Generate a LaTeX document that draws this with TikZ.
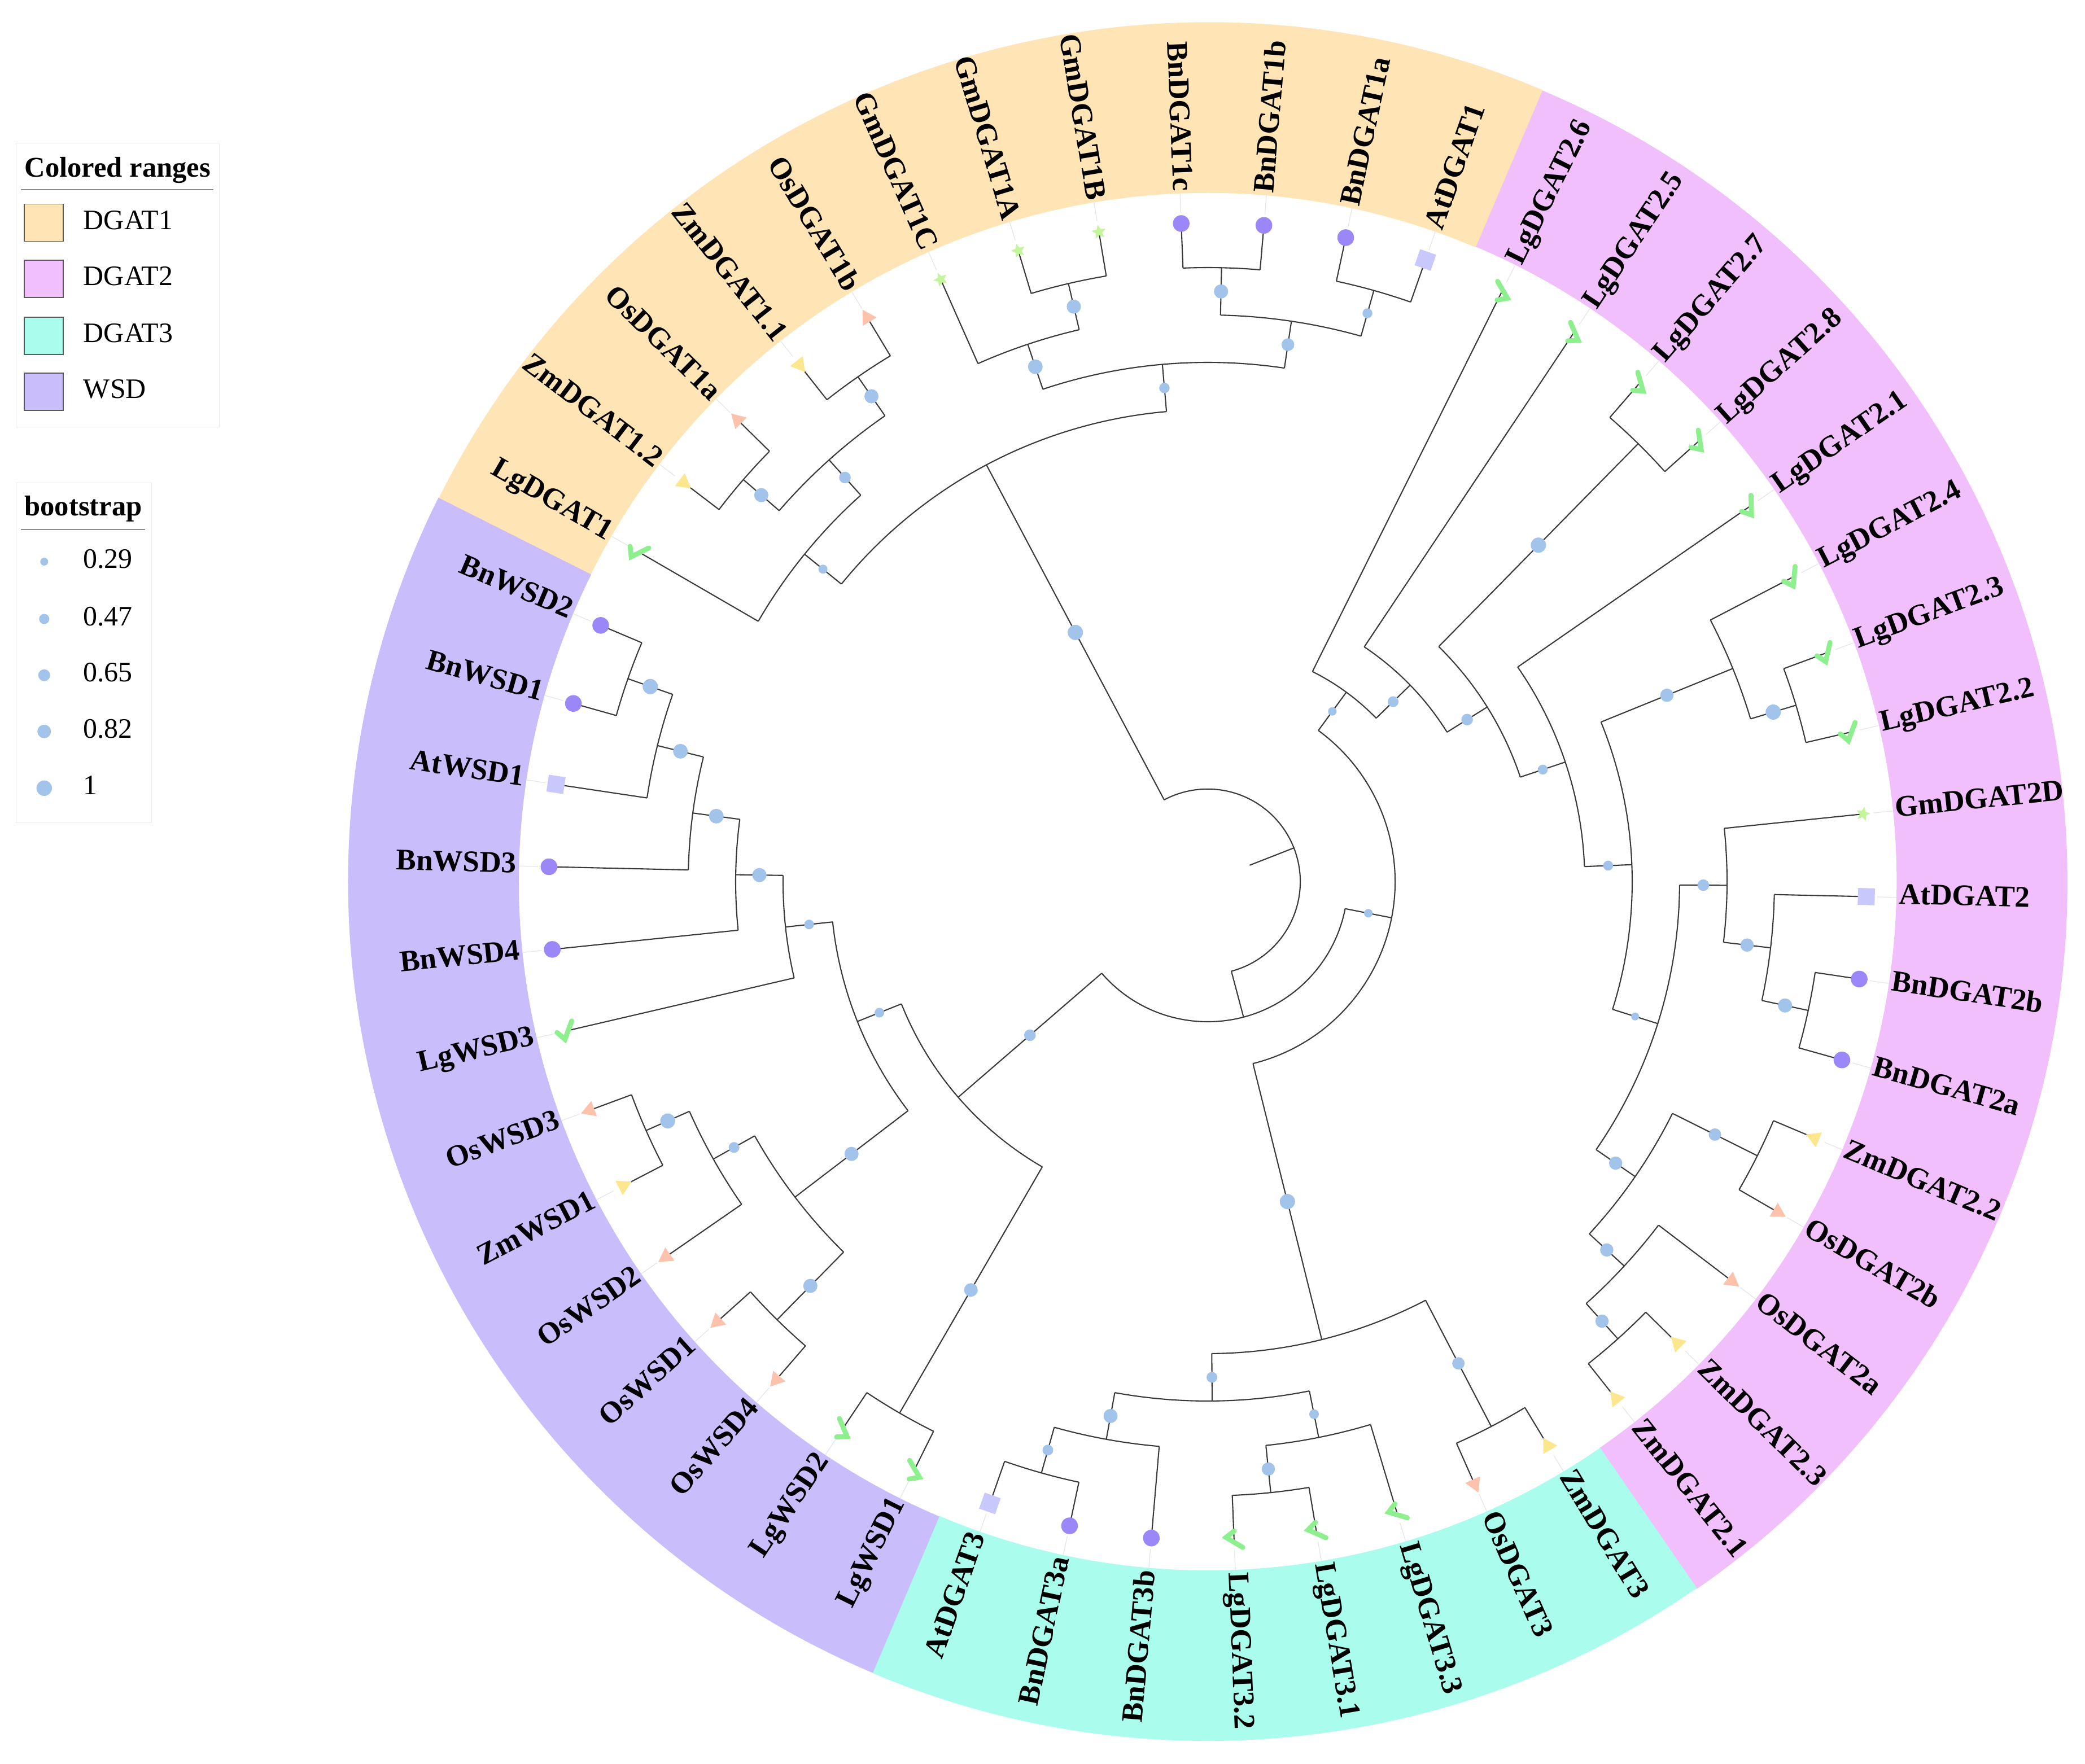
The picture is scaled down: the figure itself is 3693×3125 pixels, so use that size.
\documentclass[tikz,border=0pt]{standalone}
\usepackage{fontspec}
\setmainfont{Liberation Serif}
\usetikzlibrary{shapes.geometric, positioning}
\definecolor{RangeOne}{HTML}{FFE5B6}
\definecolor{RangeTwo}{HTML}{F0BFFC}
\definecolor{RangeThree}{HTML}{AAFCEC}
\definecolor{RangeWSD}{HTML}{C9BDFC}
\definecolor{BranchGray}{HTML}{3A3A3A}
\definecolor{BootBlue}{HTML}{A2C3EA}
\definecolor{MarkAt}{HTML}{C9C8FC}
\definecolor{MarkBn}{HTML}{9C87F8}
\definecolor{MarkGm}{HTML}{C4F59B}
\definecolor{MarkOs}{HTML}{FDC2AB}
\definecolor{MarkZm}{HTML}{FCE68E}
\definecolor{MarkLg}{HTML}{8EEF8E}

% species markers: #1 leaf index, #2 angle, #3 label rotation
\newcommand{\mkAt}[3]{\node[atmark, rotate=#3] (mk#1) at (#2:1167) {};}
\newcommand{\mkBn}[3]{\node[bnmark] (mk#1) at (#2:1167) {};}
\newcommand{\mkGm}[3]{\node[gmmark, rotate=#2-90] (mk#1) at (#2:1167) {};}
\newcommand{\mkOs}[3]{\node[osmark, rotate=#2-90] (mk#1) at (#2:1167) {};}
\newcommand{\mkZm}[3]{\node[zmmark, rotate=#2+90] (mk#1) at (#2:1167) {};}
\newcommand{\mkLg}[3]{\draw[lgmark, shift={(#2:1167)}, rotate=#3] (-16,1) -- (-5,-14) -- (14,15);}
\newcommand{\colorrange}[3]{\fill[#1] (#2:1220) arc[start angle=#2, end angle=#3, radius=12.2cm] -- (#3:1522) arc[start angle=#3, end angle=#2, radius=15.22cm] -- cycle;}

% clades: angle / height / parent height / arc from / arc to / bootstrap size
\newcommand{\cladelist}{124.7/1/2/121.1/128.3/25, 139.1/1/2/135.5/142.7/25, 131.9/2/3/124.7/139.1/20.5,
  140.9/3/4/131.9/149.9/16, 103.1/1/2/99.5/106.7/25, 108.5/2/3/103.1/113.9/26,
  88.7/1/2/85.1/92.3/25, 74.3/1/2/70.7/77.9/17.5, 81.5/2/3/74.3/88.7/22.5,
  95.0/3/4/81.5/108.5/18.5, 117.95/4/12/95.0/140.9/27,
  160.7/1/2/157.1/164.3/27, 166.1/2/3/160.7/171.5/26, 172.4/3/4/166.1/178.7/26,
  179.15/4/5/172.4/185.9/25, 186.125/5/6/179.15/193.1/17, 203.9/1/2/200.3/207.5/26.5,
  209.3/2/3/203.9/214.7/19, 225.5/1/3/221.9/229.1/25, 217.4/3/6/209.3/225.5/25,
  201.76/6/7/186.125/217.4/17, 239.9/1/7/236.3/243.5/24, 220.83/7/11/201.76/239.9/20.5,
  297.5/1/4/293.9/301.1/22, 275.9/1/2/272.3/279.5/23.5, 281.3/2/3/275.9/286.7/17,
  254.3/1/2/250.7/257.9/19, 259.7/2/3/254.3/265.1/25, 270.5/3/4/259.7/281.3/19,
  284.0/4/10/270.5/297.5/27,
  347.9/1/2/344.3/351.5/25, 353.3/2/3/347.9/358.7/23.5, 359.6/3/4/353.3/365.9/20.5,
  333.5/1/3/329.9/337.1/22, 311.9/1/2/308.3/315.5/23.5, 317.3/2/3/311.9/322.7/23.5,
  325.4/3/4/317.3/333.5/23.5, 342.5/4/5/325.4/359.6/14, 376.7/1/2/373.1/380.3/27,
  382.1/2/5/376.7/387.5/23.5, 362.3/5/6/342.5/382.1/17.5, 378.5/6/7/362.3/394.7/17.5,
  405.5/1/7/401.9/409.1/27, 392.0/7/8/378.5/405.5/20.5, 404.15/8/9/392.0/416.3/19,
  413.8/9/10/404.15/423.5/15, 348.9/10/11/284.0/413.8/15}

% leaves: index / name / species / parent height
\newcommand{\leaflist}{0/AtDGAT2/At/2, 1/GmDGAT2D/Gm/3, 2/LgDGAT2.2/Lg/1, 3/LgDGAT2.3/Lg/1,
  4/LgDGAT2.4/Lg/2, 5/LgDGAT2.1/Lg/6, 6/LgDGAT2.8/Lg/1, 7/LgDGAT2.7/Lg/1, 8/LgDGAT2.5/Lg/8,
  9/LgDGAT2.6/Lg/9, 10/AtDGAT1/At/1, 11/BnDGAT1a/Bn/1, 12/BnDGAT1b/Bn/1, 13/BnDGAT1c/Bn/1,
  14/GmDGAT1B/Gm/1, 15/GmDGAT1A/Gm/1, 16/GmDGAT1C/Gm/2, 17/OsDGAT1b/Os/1, 18/ZmDGAT1.1/Zm/1,
  19/OsDGAT1a/Os/1, 20/ZmDGAT1.2/Zm/1, 21/LgDGAT1/Lg/3, 22/BnWSD2/Bn/1, 23/BnWSD1/Bn/1,
  24/AtWSD1/At/2, 25/BnWSD3/Bn/3, 26/BnWSD4/Bn/4, 27/LgWSD3/Lg/5, 28/OsWSD3/Os/1,
  29/ZmWSD1/Zm/1, 30/OsWSD2/Os/2, 31/OsWSD1/Os/1, 32/OsWSD4/Os/1, 33/LgWSD2/Lg/1,
  34/LgWSD1/Lg/1, 35/AtDGAT3/At/1, 36/BnDGAT3a/Bn/1, 37/BnDGAT3b/Bn/2, 38/LgDGAT3.2/Lg/1,
  39/LgDGAT3.1/Lg/1, 40/LgDGAT3.3/Lg/2, 41/OsDGAT3/Os/1, 42/ZmDGAT3/Zm/1, 43/ZmDGAT2.1/Zm/1,
  44/ZmDGAT2.3/Zm/1, 45/OsDGAT2a/Os/2, 46/OsDGAT2b/Os/1, 47/ZmDGAT2.2/Zm/1,
  48/BnDGAT2a/Bn/1, 49/BnDGAT2b/Bn/1}

\begin{document}
\begin{tikzpicture}[x=0.01cm, y=0.01cm]
  \tikzset{
    branch/.style={draw=BranchGray, line width=0.6pt},
    tipline/.style={draw=black!10, line width=0.35pt},
    bsfill/.style={fill=BootBlue},
    atmark/.style={rectangle, fill=MarkAt, minimum size=0.3cm, inner sep=0pt},
    bnmark/.style={circle, fill=MarkBn, minimum size=0.295cm, inner sep=0pt},
    gmmark/.style={star, star points=5, star point ratio=2.2, fill=MarkGm, minimum size=0.26cm, inner sep=0pt},
    osmark/.style={regular polygon, regular polygon sides=3, fill=MarkOs, minimum size=0.33cm, inner sep=0pt},
    zmmark/.style={regular polygon, regular polygon sides=3, fill=MarkZm, minimum size=0.33cm, inner sep=0pt},
    lgmark/.style={draw=MarkLg, line width=2.5pt, line cap=round, line join=miter},
    leaflabel/.style={font=\fontsize{15.1}{18}\selectfont\bfseries, inner sep=0pt, text height=0.66em, text depth=0pt},
    legendframe/.style={draw=black!8, line width=0.3pt},
    legendrule/.style={draw=black!45, line width=0.4pt},
    legendtitle/.style={font=\fontsize{14.4}{17}\selectfont\bfseries, inner sep=0pt},
    legendtext/.style={font=\fontsize{14.2}{17}\selectfont, inner sep=0pt, text height=0.66em, text depth=0pt},
    swatch/.style={rectangle, draw=black!65, line width=0.5pt, minimum width=0.69cm, minimum height=0.66cm, inner sep=0pt},
    bsdot/.style={circle, fill=BootBlue, inner sep=0pt}
  }
  \useasboundingbox (-2139,-1563) rectangle (1554,1562);

  % colored ranges
  \colorrange{RangeTwo}{-55.3}{67.1}
  \colorrange{RangeOne}{67.1}{153.5}
  \colorrange{RangeWSD}{153.5}{247.1}
  \colorrange{RangeThree}{247.1}{304.7}

  % root and its two children
  \draw[branch] (21.4:80) -- (21.4:164);
  \draw[branch] (284.85:164) arc[start angle=284.85, end angle=477.95, radius=1.64cm];
  \draw[branch] (284.85:164) -- (284.85:248);
  \draw[branch] (220.83:248) arc[start angle=220.83, end angle=348.9, radius=2.48cm];

  % internal clades
  \foreach \a/\h/\p/\lo/\hi/\d in \cladelist {
    \pgfmathsetmacro{\rn}{1172-84*\h}
    \pgfmathsetmacro{\rp}{1172-84*\p}
    \draw[branch] (\a:\rp) -- (\a:\rn);
    \draw[branch] (\lo:\rn) arc[start angle=\lo, end angle=\hi, radius=\rn*0.01cm];
  }

  % leaves, markers and labels
  \foreach \j/\name/\sp/\p in \leaflist {
    \pgfmathsetmacro{\ang}{-1.3+7.2*\j}
    \pgfmathtruncatemacro{\rightside}{cos(\ang)>0}
    \ifnum\rightside=1 \pgfmathsetmacro{\rot}{\ang}\else\pgfmathsetmacro{\rot}{\ang-180}\fi
    \draw[branch] (\ang:{1172-84*\p}) -- (\ang:1167);
    \draw[tipline] (\ang:1186) -- (\ang:1220);
    \csname mk\sp\endcsname{\j}{\ang}{\rot}
    \ifnum\rightside=1
      \node[leaflabel, anchor=west, rotate=\rot] (lab\j) at (\ang:1224) {\name};
    \else
      \node[leaflabel, anchor=east, rotate=\rot] (lab\j) at (\ang:1224) {\name};
    \fi
  }

  % bootstrap symbols
  \foreach \a/\h/\p/\lo/\hi/\d in \cladelist {
    \fill[bsfill] (\a:{1172-42*(\h+\p)}) circle[radius=\d*0.005cm];
  }

  % legend: colored ranges
  \draw[legendframe] (-2110.7,805.9) rectangle (-1750.7,1308.1);
  \node[legendtitle, anchor=base] (rangetitle) at (-1930.7,1248.3) {Colored ranges};
  \draw[legendrule] (-2101.7,1226) -- (-1760.7,1226);
  \node[swatch, fill=RangeOne] (swOne) at (-2061.2,1167.4) {};
  \node[swatch, fill=RangeTwo] (swTwo) at (-2061.2,1068) {};
  \node[swatch, fill=RangeThree] (swThree) at (-2061.2,967) {};
  \node[swatch, fill=RangeWSD] (swWSD) at (-2061.2,867.7) {};
  \node[legendtext, right=3.4mm of swOne] (txOne) {DGAT1};
  \node[legendtext, right=3.4mm of swTwo] (txTwo) {DGAT2};
  \node[legendtext, right=3.4mm of swThree] (txThree) {DGAT3};
  \node[legendtext, right=3.4mm of swWSD] (txWSD) {WSD};

  % legend: bootstrap
  \draw[legendframe] (-2110.7,104.3) rectangle (-1870.7,706.2);
  \node[legendtitle, anchor=base] (bstitle) at (-1991.5,648) {bootstrap};
  \draw[legendrule] (-2101.7,624) -- (-1881.7,624);
  \foreach \v/\y/\d [count=\k] in {0.29/567/14, 0.47/465.4/18, 0.65/365.8/21, 0.82/266.2/24, 1/165.7/27.5} {
    \node[bsdot, minimum size=\d*0.01cm] (bs\k) at (-2060.7,\y) {};
    \node[legendtext, anchor=west] (bstext\k) at (-1992.3,\y) {\v};
  }
\end{tikzpicture}
\end{document}
